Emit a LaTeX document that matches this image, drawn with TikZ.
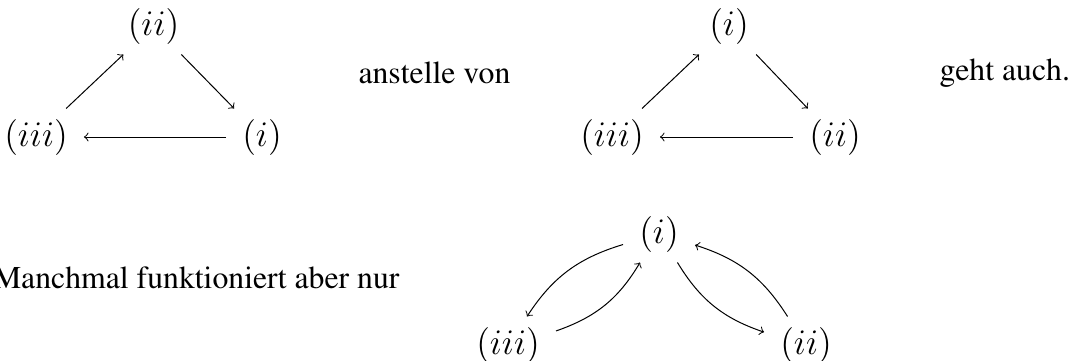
\documentclass[tikz,border=0pt]{standalone}
\usepackage[T1]{fontenc}
\newcommand{\ptmtext}{\fontencoding{T1}\fontfamily{ptm}\selectfont}
\begin{document}
\begin{tikzpicture}[x=0.4pt,y=-0.4pt,
  mnode/.style={inner xsep=6.5pt,inner ysep=4.2pt,outer sep=0pt,font=\fontsize{13.3}{16}\selectfont},
  txt/.style={inner sep=0pt,font=\fontsize{12.7}{15}\ptmtext},
  arr/.style={->,line width=0.4pt}]
\useasboundingbox (0,0) rectangle (1072,360);
% first diagram
\node[mnode] (a2) at (153.5,26) {$(ii)$};
\node[mnode] (a3) at (36,137) {$(iii)$};
\node[mnode] (a1) at (262,137) {$(i)$};
\draw[arr] (a3) -- (a2);
\draw[arr] (a2) -- (a1);
\draw[arr] (a1) -- (a3);
\node[txt,anchor=base west] (t1) at (358,83) {anstelle von};
% second diagram
\node[mnode] (b1) at (729,26) {$(i)$};
\node[mnode] (b3) at (612,137) {$(iii)$};
\node[mnode] (b2) at (835,137) {$(ii)$};
\draw[arr] (b3) -- (b1);
\draw[arr] (b1) -- (b2);
\draw[arr] (b2) -- (b3);
\node[txt,anchor=base west] (t2) at (939,80) {geht auch.};
% third diagram
\node[txt,anchor=base east] (t3) at (400,288) {Manchmal funktioniert aber nur};
\node[mnode] (c1) at (659,234) {$(i)$};
\node[mnode] (c3) at (508,345) {$(iii)$};
\node[mnode] (c2) at (806,345) {$(ii)$};
\draw[arr] (c1) to[bend right=20] (c3);
\draw[arr] (c3) to[bend right=20] (c1);
\draw[arr] (c1) to[bend right=20] (c2);
\draw[arr] (c2) to[bend right=20] (c1);
\end{tikzpicture}
\end{document}
